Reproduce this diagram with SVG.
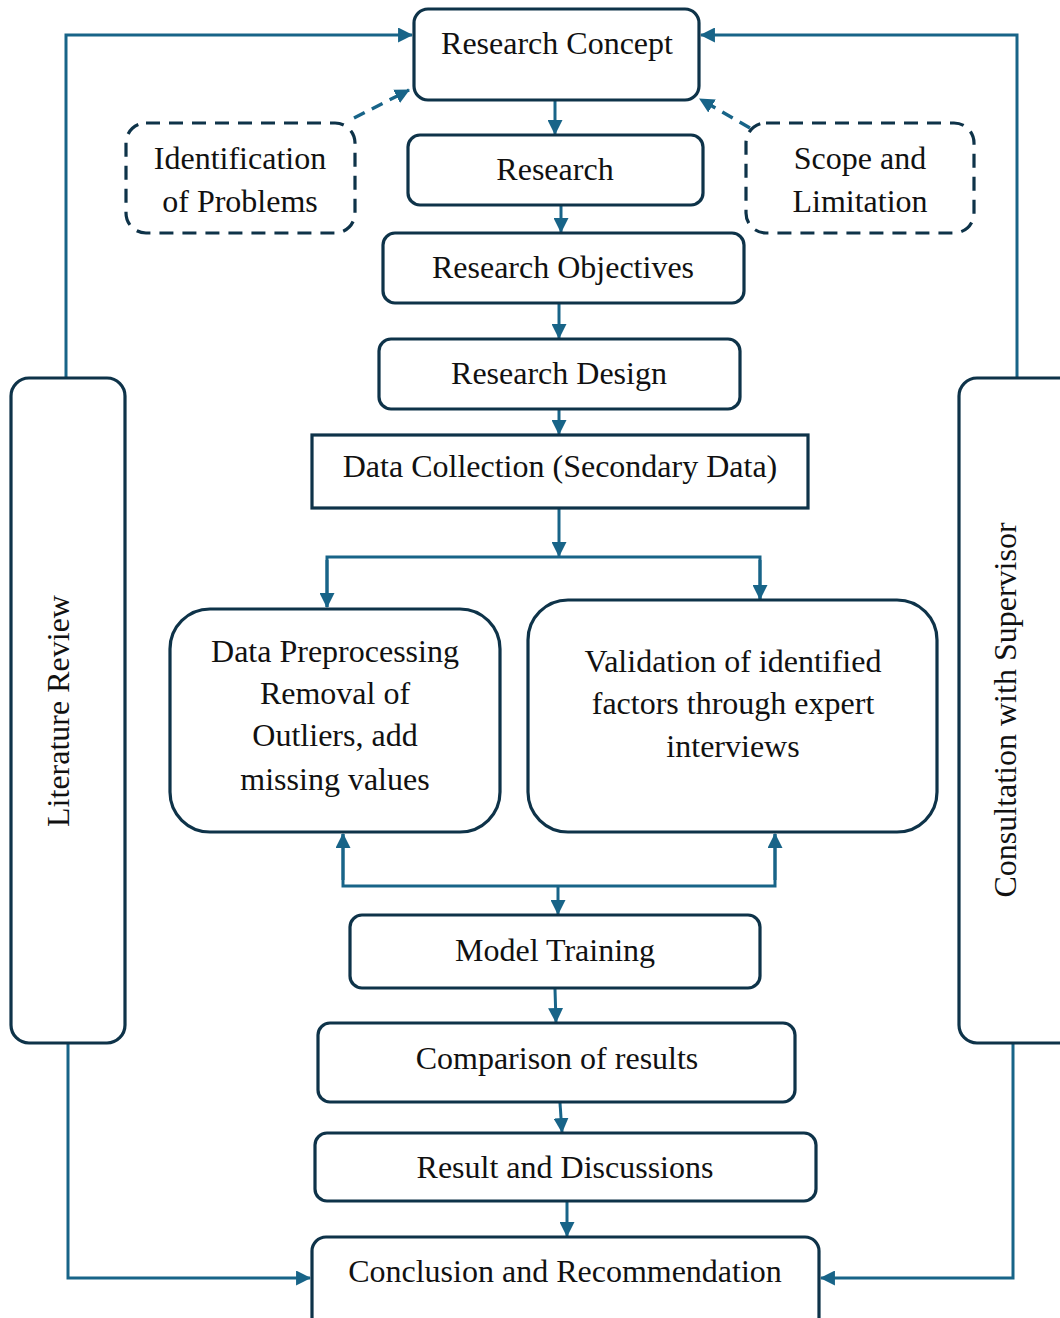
<svg xmlns="http://www.w3.org/2000/svg" width="1060" height="1318" viewBox="0 0 1060 1318">
  <style>
    .box { fill: #ffffff; stroke: #0e3349; stroke-width: 3.2; }
    .dash { fill: #ffffff; stroke: #0e3349; stroke-width: 3.2; stroke-dasharray: 14 9; }
    .lbl { font-family: "Liberation Serif", "Times New Roman", serif; font-size: 32px; fill: #111111; text-anchor: middle; }
    .link { fill: none; stroke: #186488; stroke-width: 3; }
    .dlink { fill: none; stroke: #186488; stroke-width: 3.4; stroke-dasharray: 12 8; }
  </style>
  <defs>
    <marker id="arrow" viewBox="0 0 14 14" refX="13" refY="7" markerWidth="15" markerHeight="15" markerUnits="userSpaceOnUse" orient="auto">
      <path d="M0,0 L14,7 L0,14 Z" fill="#186488"/>
    </marker>
  </defs>
  <rect width="1060" height="1318" fill="#ffffff"/>

  <!-- connectors -->
  <g id="connectors">
    <polyline class="link" points="66,378 66,35 412,35" marker-end="url(#arrow)"/>
    <polyline class="link" points="1017,378 1017,35 701,35" marker-end="url(#arrow)"/>
    <polyline class="link" points="68,1043 68,1278 310,1278" marker-end="url(#arrow)"/>
    <polyline class="link" points="1013,1043 1013,1278 821,1278" marker-end="url(#arrow)"/>
    <line class="dlink" x1="354" y1="118" x2="409" y2="90" marker-end="url(#arrow)"/>
    <line class="dlink" x1="750" y1="128" x2="700" y2="99" marker-end="url(#arrow)"/>
    <line class="link" x1="555" y1="101" x2="555" y2="134" marker-end="url(#arrow)"/>
    <line class="link" x1="561" y1="206" x2="561" y2="232" marker-end="url(#arrow)"/>
    <line class="link" x1="559" y1="304" x2="559" y2="338" marker-end="url(#arrow)"/>
    <line class="link" x1="559" y1="410" x2="559" y2="434" marker-end="url(#arrow)"/>
    <line class="link" x1="559" y1="509" x2="559" y2="556" marker-end="url(#arrow)"/>
    <polyline class="link" points="327,607 327,557 760,557 760,599"/>
    <line class="link" x1="327" y1="560" x2="327" y2="607" marker-end="url(#arrow)"/>
    <line class="link" x1="760" y1="560" x2="760" y2="599" marker-end="url(#arrow)"/>
    <polyline class="link" points="343,834 343,886 775,886 775,834"/>
    <line class="link" x1="343" y1="880" x2="343" y2="834" marker-end="url(#arrow)"/>
    <line class="link" x1="775" y1="880" x2="775" y2="834" marker-end="url(#arrow)"/>
    <line class="link" x1="558" y1="887" x2="558" y2="914" marker-end="url(#arrow)"/>
    <line class="link" x1="555" y1="989" x2="556" y2="1022" marker-end="url(#arrow)"/>
    <line class="link" x1="560" y1="1103" x2="562" y2="1132" marker-end="url(#arrow)"/>
    <line class="link" x1="567" y1="1202" x2="567" y2="1236" marker-end="url(#arrow)"/>
  </g>

  <!-- nodes -->
  <g id="research-concept">
    <rect class="box" x="414" y="9" width="285" height="91" rx="14"/>
    <text class="lbl" x="557" y="54">Research Concept</text>
  </g>
  <g id="research">
    <rect class="box" x="408" y="135" width="295" height="70" rx="12"/>
    <text class="lbl" x="555" y="180">Research</text>
  </g>
  <g id="research-objectives">
    <rect class="box" x="383" y="233" width="361" height="70" rx="12"/>
    <text class="lbl" x="563" y="278">Research Objectives</text>
  </g>
  <g id="research-design">
    <rect class="box" x="379" y="339" width="361" height="70" rx="12"/>
    <text class="lbl" x="559" y="384">Research Design</text>
  </g>
  <g id="data-collection">
    <rect class="box" x="312" y="435" width="496" height="73"/>
    <text class="lbl" x="560" y="477">Data Collection (Secondary Data)</text>
  </g>
  <g id="data-preprocessing">
    <rect class="box" x="170" y="609" width="330" height="223" rx="40"/>
    <text class="lbl" x="335" y="662">Data Preprocessing</text>
    <text class="lbl" x="335" y="704">Removal of</text>
    <text class="lbl" x="335" y="746">Outliers, add</text>
    <text class="lbl" x="335" y="790">missing values</text>
  </g>
  <g id="validation">
    <rect class="box" x="528" y="600" width="409" height="232" rx="40"/>
    <text class="lbl" x="733" y="672">Validation of identified</text>
    <text class="lbl" x="733" y="714">factors through expert</text>
    <text class="lbl" x="733" y="757">interviews</text>
  </g>
  <g id="model-training">
    <rect class="box" x="350" y="915" width="410" height="73" rx="12"/>
    <text class="lbl" x="555" y="961">Model Training</text>
  </g>
  <g id="comparison">
    <rect class="box" x="318" y="1023" width="477" height="79" rx="12"/>
    <text class="lbl" x="557" y="1069">Comparison of results</text>
  </g>
  <g id="result-discussions">
    <rect class="box" x="315" y="1133" width="501" height="68" rx="12"/>
    <text class="lbl" x="565" y="1178">Result and Discussions</text>
  </g>
  <g id="conclusion">
    <rect class="box" x="312" y="1237" width="507" height="100" rx="14"/>
    <text class="lbl" x="565" y="1282">Conclusion and Recommendation</text>
  </g>
  <g id="identification-of-problems">
    <rect class="dash" x="126" y="123" width="229" height="110" rx="20"/>
    <text class="lbl" x="240" y="169">Identification</text>
    <text class="lbl" x="240" y="212">of Problems</text>
  </g>
  <g id="scope-limitation">
    <rect class="dash" x="746" y="123" width="228" height="110" rx="20"/>
    <text class="lbl" x="860" y="169">Scope and</text>
    <text class="lbl" x="860" y="212">Limitation</text>
  </g>
  <g id="literature-review">
    <rect class="box" x="11" y="378" width="114" height="665" rx="18"/>
    <text class="lbl" transform="translate(69,711) rotate(-90)">Literature Review</text>
  </g>
  <g id="consultation-supervisor">
    <rect class="box" x="959" y="378" width="120" height="665" rx="18"/>
    <text class="lbl" transform="translate(1016,710) rotate(-90)">Consultation with Supervisor</text>
  </g>
</svg>
